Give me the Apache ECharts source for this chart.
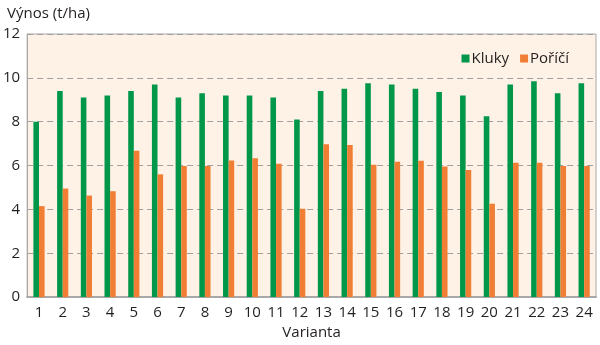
<!DOCTYPE html>
<html><head><meta charset="utf-8">
<script src="https://cdn.jsdelivr.net/npm/echarts@6/dist/echarts.min.js"></script>
<style>html,body{margin:0;padding:0;background:#fff}#c{width:600px;height:345px}</style>
</head><body><div id="c"></div>
<script>
const categories = ['1','2','3','4','5','6','7','8','9','10','11','12','13','14','15','16','17','18','19','20','21','22','23','24'];
const kluky = [8.0,9.4,9.1,9.2,9.4,9.7,9.1,9.3,9.2,9.2,9.1,8.1,9.4,9.5,9.75,9.7,9.5,9.35,9.2,8.25,9.7,9.85,9.3,9.75];
const porici = [4.15,4.95,4.63,4.83,6.67,5.6,5.98,5.98,6.23,6.33,6.08,4.03,6.97,6.94,6.04,6.17,6.22,5.96,5.8,4.26,6.13,6.13,5.98,5.98];
const seriesNames = ['Kluky','Poříčí'];
const yTicks = [0,2,4,6,8,10,12];
const font = '"Open Sans", "Noto Sans", sans-serif';
const txt = '#231f20';
const chart = echarts.init(document.getElementById('c'), null, {renderer:'canvas'});
chart.setOption({
  animation:false,
  textStyle:{fontFamily:font},
  title:{text:'Výnos (t/ha)', left:2, top:1, textStyle:{fontFamily:font,fontSize:15,fontWeight:'normal',color:txt}},
  legend:{right:26, top:46, itemWidth:8, itemHeight:8, itemGap:11, icon:'rect',
    textStyle:{fontFamily:font,fontSize:15,color:txt,padding:[0,0,0,-3]}, data:seriesNames},
  grid:{left:27, right:4, top:34, bottom:46, show:true, backgroundColor:'#fdf2e5', borderColor:'#a8a8a8', borderWidth:1},
  xAxis:{type:'category', data:categories, name:'Varianta', nameLocation:'middle', nameGap:27,
    nameTextStyle:{fontFamily:font,fontSize:15,color:txt},
    axisLine:{lineStyle:{color:'#a8a8a8',width:2}}, axisTick:{show:false},
    axisLabel:{fontFamily:font,fontSize:15,color:txt,margin:8,interval:0}},
  yAxis:{type:'value', min:0, max:12, interval:2,
    axisLine:{show:true,lineStyle:{color:'#a8a8a8',width:1}}, axisTick:{show:false},
    axisLabel:{fontFamily:font,fontSize:15,color:txt,margin:7, formatter:v=>yTicks.includes(v)?String(v):''},
    splitLine:{lineStyle:{color:'#a0a0a0',type:[6,4],width:1}}},
  series:[
    {name:seriesNames[0], type:'bar', data:kluky, barWidth:5.6, barGap:'0%', itemStyle:{color:'#00974a'}},
    {name:seriesNames[1], type:'bar', data:porici, barWidth:5.6, barGap:'0%', itemStyle:{color:'#f07f35'}}
  ]
});
</script></body></html>
